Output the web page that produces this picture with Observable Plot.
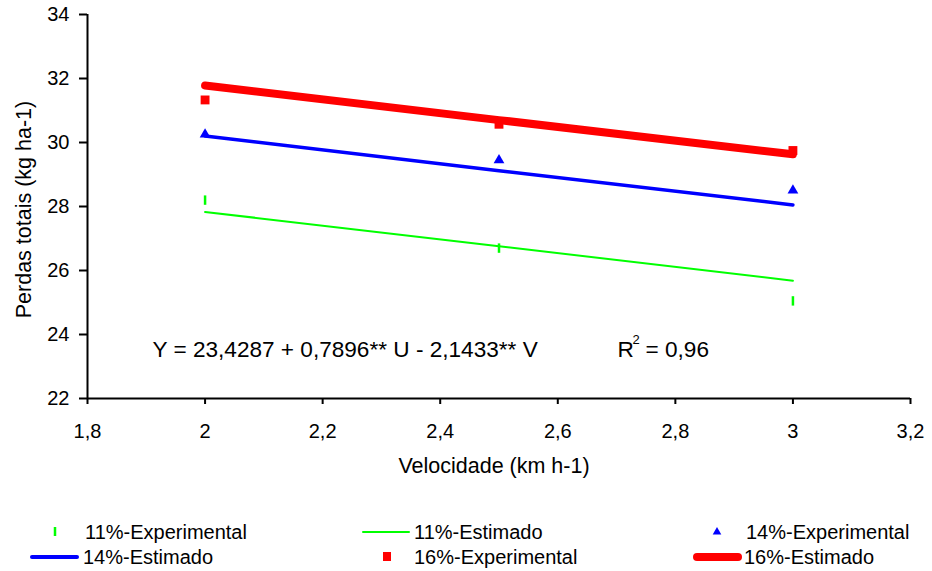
<!DOCTYPE html>
<html>
<head>
<meta charset="utf-8">
<script src="https://cdn.jsdelivr.net/npm/d3@7"></script>
<script src="https://cdn.jsdelivr.net/npm/@observablehq/plot@0.6"></script>
<style>
  html, body { margin: 0; padding: 0; background: #fff; }
  #wrap { position: relative; width: 932px; height: 571px; overflow: hidden; background: #fff; }
  #wrap svg { display: block; }
</style>
</head>
<body>
<div id="wrap"></div>
<script>
// ---- Data ----
const velocidade = [2, 2.5, 3];
const exp11 = [28.2, 26.7, 25.05];
const exp14 = [30.25, 29.45, 28.5];
const exp16 = [31.33, 30.57, 29.75];
const est11 = [27.83, 26.76, 25.68];
const est14 = [30.2, 29.12, 28.05];
const est16 = [31.78, 30.7, 29.63];
const xTicks = [1.8, 2, 2.2, 2.4, 2.6, 2.8, 3, 3.2];
const yTicks = [22, 24, 26, 28, 30, 32, 34];
const xTitle = "Velocidade (km h-1)";
const yTitle = "Perdas totais (kg ha-1)";
const equation = "Y = 23,4287 + 0,7896** U - 2,1433** V";
const r2Label = ["R", "2", "= 0,96"];
const legendLabels = ["11%-Experimental", "11%-Estimado", "14%-Experimental",
                      "14%-Estimado", "16%-Experimental", "16%-Estimado"];

// ---- Helpers ----
const FONT = "Arial, 'Liberation Sans', Helvetica, sans-serif";
const GREEN = "#00ff00", BLUE = "#0000ff", RED = "#ff0000";
const fmt = d => String(d).replace(".", ",");
const rows = vals => velocidade.map((v, i) => ({v, y: vals[i]}));
const dashSymbol = {
  draw(ctx, size) {
    const h = Math.sqrt(size) / 2;
    ctx.moveTo(0, -h);
    ctx.lineTo(0, h);
  }
};

const chart = Plot.plot({
  width: 932,
  height: 500,
  marginTop: 14,
  marginRight: 22,
  marginBottom: 102,
  marginLeft: 87,
  style: {fontFamily: FONT, fontSize: "20px", color: "#000", background: "#fff", overflow: "visible"},
  x: {domain: [1.8, 3.2]},
  y: {domain: [22, 34]},
  marks: [
    Plot.axisX({ticks: xTicks, tickFormat: fmt, tickSize: 6, tickPadding: 19, strokeWidth: 2, label: null}),
    Plot.axisY({ticks: yTicks, tickSize: 8, tickPadding: 10, strokeWidth: 2, label: null}),
    Plot.ruleX([1.8], {stroke: "#000", strokeWidth: 2}),
    Plot.ruleY([22], {stroke: "#000", strokeWidth: 2}),
    Plot.text([xTitle], {frameAnchor: "bottom", dx: -5, dy: 68, lineAnchor: "middle", textAnchor: "middle", fontSize: 21.5}),
    Plot.text([yTitle], {frameAnchor: "left", dx: -63, dy: 3, rotate: -90, lineAnchor: "middle", textAnchor: "middle", fontSize: 21.5}),
    // estimated lines
    Plot.line(rows(est11), {x: "v", y: "y", stroke: GREEN, strokeWidth: 2, strokeLinecap: "round"}),
    Plot.line(rows(est14), {x: "v", y: "y", stroke: BLUE, strokeWidth: 3.5, strokeLinecap: "round"}),
    Plot.line(rows(est16), {x: "v", y: "y", stroke: RED, strokeWidth: 8, strokeLinecap: "round"}),
    // experimental points
    Plot.dot(rows(exp11), {x: "v", y: "y", symbol: dashSymbol, r: 5.3, stroke: GREEN, strokeWidth: 2.5, fill: "none"}),
    Plot.dot(rows(exp14), {x: "v", y: "y", symbol: "triangle", r: 4, fill: BLUE, stroke: "none"}),
    Plot.dot(rows(exp16), {x: "v", y: "y", symbol: "square", r: 5, fill: RED, stroke: "none"}),
    // equation annotation
    Plot.text([equation], {frameAnchor: "bottom-left", dx: 65, dy: -49, lineAnchor: "middle", textAnchor: "start", fontSize: 22.6}),
    Plot.text([r2Label[0]], {frameAnchor: "bottom-left", dx: 530, dy: -49, lineAnchor: "middle", textAnchor: "start", fontSize: 22.6}),
    Plot.text([r2Label[1]], {frameAnchor: "bottom-left", dx: 545, dy: -59, lineAnchor: "middle", textAnchor: "start", fontSize: 13}),
    Plot.text([r2Label[2]], {frameAnchor: "bottom-left", dx: 558, dy: -49, lineAnchor: "middle", textAnchor: "start", fontSize: 22.6})
  ]
});

const wrap = d3.select("#wrap");
wrap.append(() => chart);

// ---- Legend (below the chart) ----
const legendLayout = [
  {kind: "dash", color: GREEN, sx: 55, tx: 85, row: 0},
  {kind: "line", color: GREEN, w: 2, sx: 363, ex: 409, tx: 414, row: 0},
  {kind: "tri", color: BLUE, sx: 717, tx: 746, row: 0},
  {kind: "line", color: BLUE, w: 4, sx: 32, ex: 77, tx: 83, row: 1},
  {kind: "square", color: RED, sx: 387, tx: 414, row: 1},
  {kind: "line", color: RED, w: 8, sx: 697, ex: 738, tx: 744, row: 1}
];
const rowY = [32, 57];
const leg = wrap.append("svg")
  .attr("width", 932).attr("height", 71)
  .style("position", "absolute").style("left", "0px").style("top", "500px")
  .style("font-family", FONT).style("font-size", "20px");
legendLayout.forEach((e, i) => {
  const y = rowY[e.row];
  if (e.kind === "dash") {
    leg.append("line").attr("x1", e.sx).attr("x2", e.sx).attr("y1", y - 5).attr("y2", y + 4)
      .attr("stroke", e.color).attr("stroke-width", 2.5);
  } else if (e.kind === "line") {
    leg.append("line").attr("x1", e.sx).attr("x2", e.ex).attr("y1", y).attr("y2", y)
      .attr("stroke", e.color).attr("stroke-width", e.w).attr("stroke-linecap", "round");
  } else if (e.kind === "tri") {
    leg.append("path").attr("d", d3.symbol(d3.symbolTriangle, 32)()).attr("transform", `translate(${e.sx},${y})`)
      .attr("fill", e.color);
  } else if (e.kind === "square") {
    leg.append("rect").attr("x", e.sx - 4).attr("y", y - 5).attr("width", 8).attr("height", 9).attr("fill", e.color);
  }
  leg.append("text").attr("x", e.tx).attr("y", y).attr("dy", "0.35em").attr("fill", "#000").text(legendLabels[i]);
});
</script>
</body>
</html>
